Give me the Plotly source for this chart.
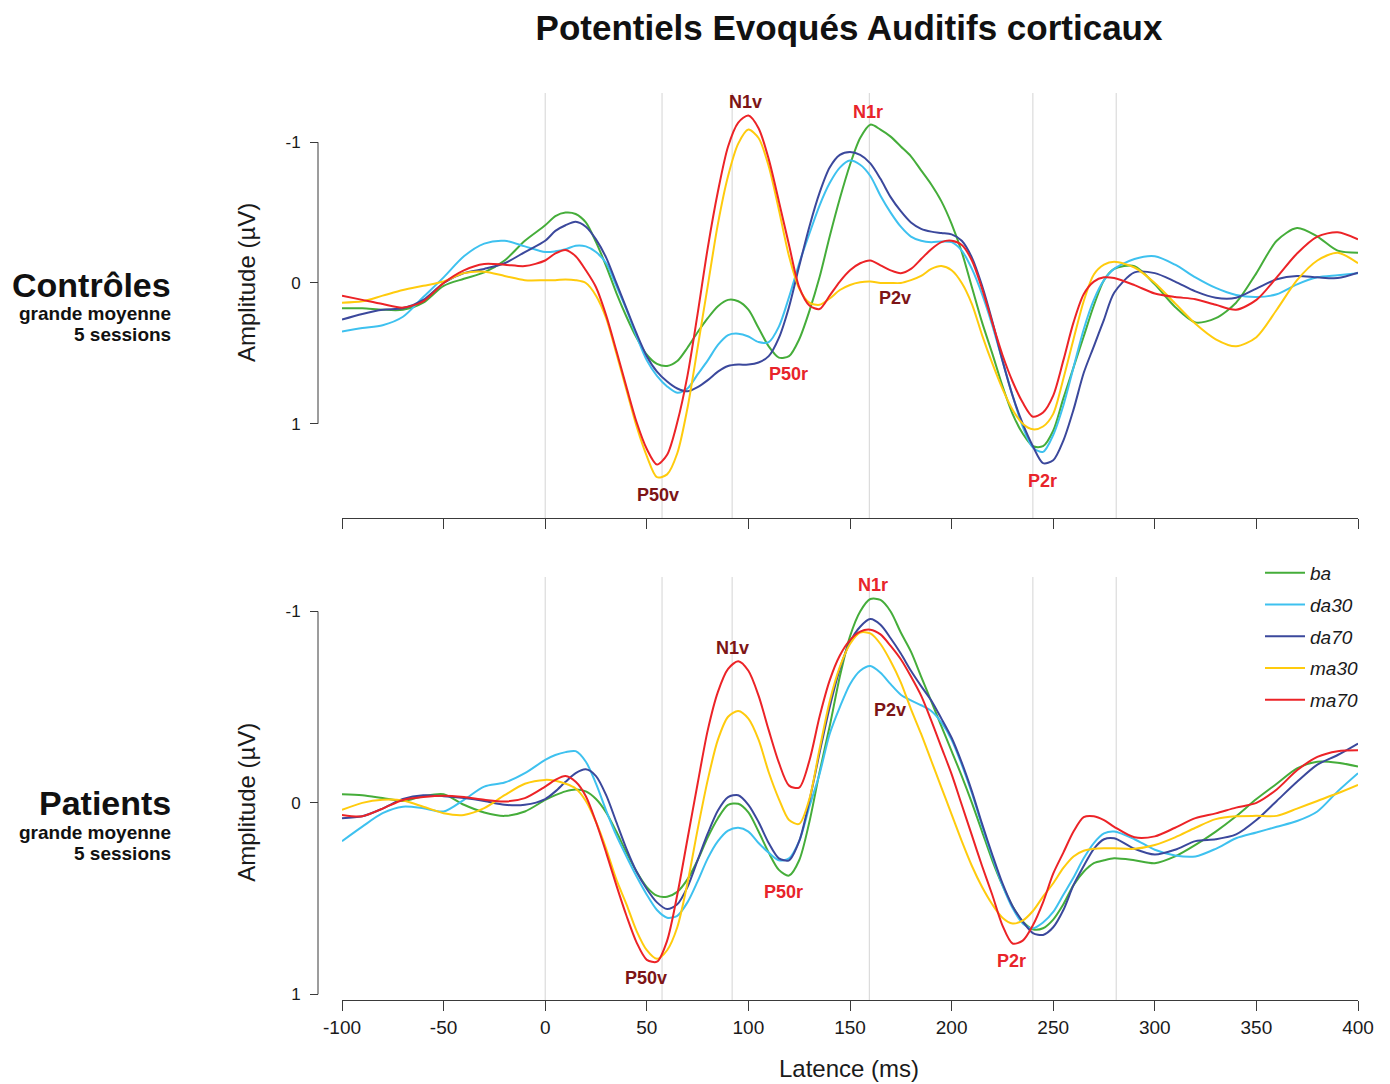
import plotly.graph_objects as go

# ---------------- data ----------------
latency_ms = [-100, -90, -80, -70, -60, -50, -40, -30, -20, -10,
              0, 5, 10, 15, 20, 25, 30, 35, 40, 45, 50, 55, 60, 65, 70, 75, 80, 85, 90, 95,
              100, 105, 110, 115, 120, 125, 130, 135, 140, 145, 150, 155, 160, 165, 170, 175, 180, 185, 190, 195,
              200, 205, 210, 215, 220, 225, 230, 235, 240, 245, 250, 255, 260, 265, 270, 275, 280,
              290, 300, 310, 320, 330, 340, 350, 360, 370, 380, 390, 400]

conditions = ["ba", "da30", "da70", "ma30", "ma70"]

# Contrôles (µV)
ctrl_ba = [0.18, 0.18, 0.19, 0.19, 0.14, 0.02, -0.03, -0.075, -0.16, -0.30,
           -0.41, -0.475, -0.50, -0.49, -0.43, -0.29, -0.12, 0.07, 0.24, 0.39, 0.51, 0.575, 0.59, 0.555, 0.46, 0.35, 0.25, 0.165, 0.12, 0.13,
           0.19, 0.32, 0.45, 0.53, 0.52, 0.40, 0.20, -0.04, -0.33, -0.60, -0.84, -1.03, -1.125, -1.09, -1.04, -0.97, -0.90, -0.80, -0.70, -0.58,
           -0.42, -0.22, 0.03, 0.28, 0.50, 0.73, 0.93, 1.07, 1.16, 1.16, 1.05, 0.82, 0.60, 0.38, 0.16, -0.02, -0.10,
           -0.12, 0.01, 0.17, 0.28, 0.25, 0.14, -0.07, -0.30, -0.39, -0.33, -0.23, -0.215]
ctrl_da30 = [0.345, 0.32, 0.30, 0.24, 0.10, -0.04, -0.19, -0.28, -0.30, -0.26,
             -0.22, -0.225, -0.24, -0.265, -0.26, -0.22, -0.14, 0.02, 0.19, 0.38, 0.55, 0.66, 0.735, 0.78, 0.75, 0.65, 0.55, 0.44, 0.37, 0.36,
             0.38, 0.42, 0.42, 0.31, 0.10, -0.14, -0.35, -0.55, -0.71, -0.82, -0.87, -0.84, -0.76, -0.62, -0.50, -0.40, -0.33, -0.30, -0.29, -0.295,
             -0.29, -0.23, -0.10, 0.08, 0.30, 0.55, 0.80, 1.02, 1.17, 1.20, 1.08, 0.87, 0.60, 0.33, 0.12, -0.02, -0.10,
             -0.17, -0.19, -0.13, -0.04, 0.035, 0.085, 0.10, 0.08, 0.01, -0.04, -0.055, -0.07]
ctrl_da70 = [0.26, 0.22, 0.19, 0.18, 0.12, 0.0, -0.07, -0.10, -0.14, -0.22,
             -0.30, -0.37, -0.41, -0.435, -0.40, -0.31, -0.18, 0.0, 0.18, 0.36, 0.52, 0.63, 0.70, 0.75, 0.77, 0.74, 0.69, 0.63, 0.59, 0.58,
             0.58, 0.565, 0.52, 0.39, 0.17, -0.12, -0.40, -0.64, -0.82, -0.91, -0.93, -0.91, -0.85, -0.74, -0.61, -0.51, -0.43, -0.385, -0.365, -0.355,
             -0.345, -0.30, -0.18, 0.02, 0.27, 0.55, 0.80, 1.00, 1.16, 1.28, 1.26, 1.12, 0.90, 0.64, 0.45, 0.26, 0.07,
             -0.075, -0.07, -0.01, 0.06, 0.105, 0.105, 0.04, -0.026, -0.05, -0.04, -0.035, -0.073]
ctrl_ma30 = [0.14, 0.13, 0.09, 0.05, 0.02, -0.01, -0.07, -0.08, -0.05, -0.02,
             -0.02, -0.02, -0.025, -0.02, 0.0, 0.09, 0.25, 0.50, 0.76, 1.02, 1.23, 1.38, 1.36, 1.21, 0.89, 0.46, 0.02, -0.42, -0.76, -0.99,
             -1.09, -1.03, -0.83, -0.52, -0.19, 0.04, 0.14, 0.155, 0.11, 0.05, 0.014, -0.005, -0.01, 0.0, 0.0, 0.0, -0.02, -0.05, -0.10, -0.12,
             -0.09, 0.0, 0.15, 0.37, 0.57, 0.75, 0.90, 1.00, 1.04, 1.02, 0.93, 0.68, 0.40, 0.13, -0.06, -0.13, -0.15,
             -0.11, 0.0, 0.145, 0.29, 0.40, 0.45, 0.385, 0.19, -0.02, -0.16, -0.215, -0.14]
ctrl_ma70 = [0.09, 0.12, 0.15, 0.175, 0.13, 0.0, -0.09, -0.135, -0.13, -0.12,
             -0.16, -0.21, -0.235, -0.19, -0.09, 0.03, 0.23, 0.48, 0.74, 0.99, 1.18, 1.29, 1.22, 0.99, 0.66, 0.22, -0.25, -0.65, -0.97, -1.14,
             -1.19, -1.10, -0.88, -0.58, -0.27, 0.03, 0.16, 0.185, 0.09, -0.01, -0.09, -0.14, -0.16, -0.125, -0.09, -0.07, -0.10, -0.17, -0.24, -0.29,
             -0.30, -0.27, -0.16, 0.04, 0.28, 0.51, 0.70, 0.85, 0.95, 0.92, 0.80, 0.55, 0.28, 0.08, -0.01, -0.04, -0.035,
             0.015, 0.075, 0.10, 0.115, 0.155, 0.19, 0.12, -0.04, -0.21, -0.33, -0.36, -0.31]

# Patients (µV)
pat_ba = [-0.045, -0.04, -0.025, -0.01, -0.035, -0.045, 0.01, 0.05, 0.068, 0.045,
          -0.015, -0.04, -0.06, -0.07, -0.06, -0.02, 0.05, 0.15, 0.26, 0.36, 0.44, 0.485, 0.49, 0.465, 0.40, 0.30, 0.18, 0.08, 0.01, 0.005,
          0.05, 0.15, 0.26, 0.35, 0.38, 0.30, 0.10, -0.16, -0.40, -0.66, -0.87, -1.00, -1.065, -1.06, -1.0, -0.89, -0.79, -0.66, -0.53, -0.40,
          -0.27, -0.14, 0.0, 0.15, 0.30, 0.43, 0.54, 0.62, 0.66, 0.655, 0.61, 0.53, 0.43, 0.36, 0.315, 0.30, 0.29,
          0.30, 0.315, 0.28, 0.22, 0.15, 0.07, -0.02, -0.10, -0.18, -0.215, -0.21, -0.19]
pat_da30 = [0.20, 0.124, 0.054, 0.02, 0.028, 0.045, -0.016, -0.085, -0.106, -0.155,
            -0.225, -0.25, -0.265, -0.27, -0.215, -0.10, 0.04, 0.17, 0.28, 0.385, 0.48, 0.56, 0.60, 0.59, 0.52, 0.41, 0.29, 0.20, 0.145, 0.13,
            0.15, 0.21, 0.26, 0.30, 0.29, 0.20, 0.02, -0.15, -0.36, -0.50, -0.62, -0.69, -0.715, -0.68, -0.62, -0.565, -0.535, -0.51, -0.48, -0.42,
            -0.33, -0.20, -0.05, 0.12, 0.28, 0.43, 0.55, 0.63, 0.655, 0.625, 0.57, 0.48, 0.39, 0.29, 0.21, 0.16, 0.15,
            0.19, 0.245, 0.275, 0.28, 0.24, 0.185, 0.155, 0.125, 0.095, 0.045, -0.06, -0.155]
pat_da70 = [0.08, 0.07, 0.03, -0.02, -0.04, -0.035, -0.025, -0.01, 0.01, 0.01,
            -0.02, -0.06, -0.11, -0.155, -0.175, -0.14, -0.04, 0.10, 0.24, 0.36, 0.45, 0.52, 0.555, 0.53, 0.44, 0.30, 0.16, 0.04, -0.03, -0.04,
            0.01, 0.10, 0.21, 0.29, 0.30, 0.20, -0.01, -0.26, -0.50, -0.70, -0.84, -0.92, -0.96, -0.93, -0.86, -0.78, -0.69, -0.61, -0.535, -0.44,
            -0.34, -0.21, -0.06, 0.11, 0.27, 0.42, 0.54, 0.62, 0.68, 0.69, 0.65, 0.56, 0.43, 0.33, 0.24, 0.19, 0.185,
            0.24, 0.27, 0.245, 0.20, 0.19, 0.165, 0.09, -0.01, -0.11, -0.20, -0.25, -0.31]
pat_ma30 = [0.037, 0.0, -0.016, -0.012, 0.02, 0.054, 0.063, 0.028, -0.04, -0.10,
            -0.12, -0.115, -0.10, -0.075, -0.01, 0.10, 0.24, 0.40, 0.53, 0.67, 0.77, 0.815, 0.77, 0.65, 0.42, 0.14, -0.12, -0.33, -0.45, -0.48,
            -0.44, -0.33, -0.16, -0.02, 0.09, 0.11, -0.02, -0.28, -0.53, -0.71, -0.83, -0.89, -0.885, -0.83, -0.74, -0.63, -0.49, -0.36, -0.22, -0.08,
            0.06, 0.20, 0.33, 0.44, 0.53, 0.60, 0.63, 0.615, 0.565, 0.49, 0.42, 0.34, 0.28, 0.25, 0.24, 0.237, 0.237,
            0.24, 0.22, 0.18, 0.13, 0.085, 0.07, 0.068, 0.068, 0.03, -0.01, -0.05, -0.094]
pat_ma70 = [0.063, 0.07, 0.03, -0.015, -0.03, -0.037, -0.03, -0.016, -0.007, -0.025,
            -0.085, -0.12, -0.14, -0.11, -0.035, 0.10, 0.26, 0.43, 0.59, 0.73, 0.82, 0.83, 0.72, 0.48, 0.19, -0.10, -0.38, -0.58, -0.70, -0.74,
            -0.69, -0.56, -0.38, -0.21, -0.09, -0.08, -0.22, -0.45, -0.64, -0.77, -0.85, -0.895, -0.905, -0.88, -0.82, -0.75, -0.66, -0.56, -0.43, -0.29,
            -0.15, 0.01, 0.17, 0.33, 0.48, 0.64, 0.735, 0.72, 0.64, 0.52, 0.37, 0.26, 0.15, 0.075, 0.07, 0.09, 0.125,
            0.18, 0.175, 0.13, 0.08, 0.055, 0.025, 0.0, -0.07, -0.17, -0.24, -0.27, -0.275]

x_ticks = [-100, -50, 0, 50, 100, 150, 200, 250, 300, 350, 400]
x_tick_labels = ["-100", "-50", "0", "50", "100", "150", "200", "250", "300", "350", "400"]
y_ticks = [-1, 0, 1]
y_tick_labels = ["-1", "0", "1"]
component_latencies = [0, 57.5, 92, 159.5, 240, 281]

# peak labels: (text, latency, amplitude, kind)  kind v = dark red, r = bright red
peak_labels_ctrl = [("N1v", 98.8, -1.284, "v"), ("N1r", 158.9, -1.213, "r"),
                    ("P50r", 119.5, 0.645, "r"), ("P50v", 55.5, 1.504, "v"),
                    ("P2v", 172.1, 0.106, "v"), ("P2r", 244.5, 1.404, "r")]
peak_labels_pat = [("N1r", 161.3, -1.138, "r"), ("N1v", 92.4, -0.809, "v"),
                   ("P2v", 169.7, -0.486, "v"), ("P50r", 117.5, 0.465, "r"),
                   ("P50v", 49.6, 0.914, "v"), ("P2r", 229.7, 0.825, "r")]

# ---------------- styling ----------------
FONT = "Liberation Sans, Arial, sans-serif"
colors = {"ba": "#45ad3a", "da30": "#3ec1ef", "da70": "#3b489c", "ma30": "#ffcb0d", "ma70": "#ec2327"}
label_colors = {"v": "#7d1416", "r": "#e8242b"}
AXIS_COL = "#3a3a3a"

ctrl = dict(zip(conditions, [ctrl_ba, ctrl_da30, ctrl_da70, ctrl_ma30, ctrl_ma70]))
pat = dict(zip(conditions, [pat_ba, pat_da30, pat_da70, pat_ma30, pat_ma70]))

fig = go.Figure()
for c in conditions:
    fig.add_trace(go.Scatter(x=latency_ms, y=ctrl[c], mode="lines", name=c, legendgroup=c,
                             showlegend=False, line=dict(color=colors[c], width=2, shape="spline", smoothing=0.8),
                             xaxis="x", yaxis="y", hoverinfo="skip"))
for c in conditions:
    fig.add_trace(go.Scatter(x=latency_ms, y=pat[c], mode="lines", name=c, legendgroup=c,
                             showlegend=True, line=dict(color=colors[c], width=2, shape="spline", smoothing=0.8),
                             xaxis="x2", yaxis="y2", hoverinfo="skip"))

# page body adds an 8 px offset; layout is designed in page pixels
OFF = 8
W, H = 1390 - OFF, 1084 - OFF
ML = 318 - OFF
MT = 93 - OFF
PW = 1358 - 318
MR = W - ML - PW
MB = H - (1000 - OFF)
PH = H - MT - MB
xdom0 = (342 - 318) / PW
top_dom = [(1000 - 518) / PH, 1.0]
bot_dom = [0.0, (1000 - 577) / PH]


def px2paper_x(px):
    return (px - 318) / PW


def py2paper(py):
    return (1000 - py) / PH


xcommon = dict(range=[-100, 400], domain=[xdom0, 1], showline=True, linecolor=AXIS_COL, linewidth=1,
               ticks="outside", ticklen=10, tickcolor=AXIS_COL, tickwidth=1, tickvals=x_ticks,
               ticktext=x_tick_labels, showgrid=False, zeroline=False, fixedrange=True)
ycommon = dict(anchor="free", position=0, showline=False, ticks="outside", ticklen=8, tickcolor=AXIS_COL,
               tickwidth=1, tickvals=y_ticks, ticktext=y_tick_labels, showgrid=False, zeroline=False,
               tickfont=dict(size=17, color="#1a1a1a"), ticklabelstandoff=6)

fig.update_layout(
    width=W, height=H,
    margin=dict(l=ML, r=MR, t=MT, b=MB),
    paper_bgcolor="white", plot_bgcolor="white",
    font=dict(family=FONT, color="#1a1a1a"),
    title=dict(text="<b>Potentiels Evoqués Auditifs corticaux</b>", x=(849 - OFF) / W, xanchor="center",
               y=1 - (28 - OFF) / H, yanchor="middle", font=dict(size=35, color="#111")),
    xaxis=dict(**xcommon, anchor="y", showticklabels=False),
    xaxis2=dict(**xcommon, anchor="y2", showticklabels=True, tickfont=dict(size=19, color="#1a1a1a")),
    yaxis=dict(**ycommon, domain=top_dom, range=[1.67, -1.35]),
    yaxis2=dict(**ycommon, domain=bot_dom, range=[1.03, -1.18]),
    showlegend=True,
    legend=dict(x=1.0 + 5 / PW, xanchor="right", y=py2paper(554), yanchor="top",
                font=dict(size=19, style="italic", color="#1a1a1a"), bgcolor="rgba(0,0,0,0)",
                tracegroupgap=4, itemwidth=40),
)

shapes = []
for yref in ["y", "y2"]:
    shapes.append(dict(type="line", xref="paper", yref=yref, x0=0, x1=0, y0=y_ticks[0], y1=y_ticks[-1],
                       line=dict(color=AXIS_COL, width=1)))
for xr, yr in [("x", "y domain"), ("x2", "y2 domain")]:
    for lt in component_latencies:
        shapes.append(dict(type="line", xref=xr, yref=yr, x0=lt, x1=lt, y0=0, y1=1, layer="below",
                           line=dict(color="#d4d4d4", width=1)))
fig.update_layout(shapes=shapes)

ann = []
for txt, lx, ly, k in peak_labels_ctrl:
    ann.append(dict(text=f"<b>{txt}</b>", x=lx, y=ly, xref="x", yref="y", showarrow=False,
                    font=dict(size=18, color=label_colors[k])))
for txt, lx, ly, k in peak_labels_pat:
    ann.append(dict(text=f"<b>{txt}</b>", x=lx, y=ly, xref="x2", yref="y2", showarrow=False,
                    font=dict(size=18, color=label_colors[k])))

for yref in ["y", "y2"]:
    ann.append(dict(text="Amplitude (µV)", x=px2paper_x(247), y=0, xref="paper", yref=yref, textangle=-90,
                    showarrow=False, xanchor="center", yanchor="middle", font=dict(size=24, color="#1a1a1a")))

group_text = [("Contrôles", 285, 34), ("grande moyenne", 313, 19), ("5 sessions", 335, 19),
              ("Patients", 803, 34), ("grande moyenne", 832, 19), ("5 sessions", 853, 19)]
for t, py, sz in group_text:
    ann.append(dict(text=f"<b>{t}</b>", x=px2paper_x(173), y=py2paper(py), xref="paper", yref="paper",
                    showarrow=False, xanchor="right", yanchor="middle", font=dict(size=sz, color="#111")))

ann.append(dict(text="Latence (ms)", x=px2paper_x(849), y=py2paper(1068), xref="paper", yref="paper",
                showarrow=False, xanchor="center", yanchor="middle", font=dict(size=24, color="#1a1a1a")))
fig.update_layout(annotations=ann)

fig.write_html("out.html")
